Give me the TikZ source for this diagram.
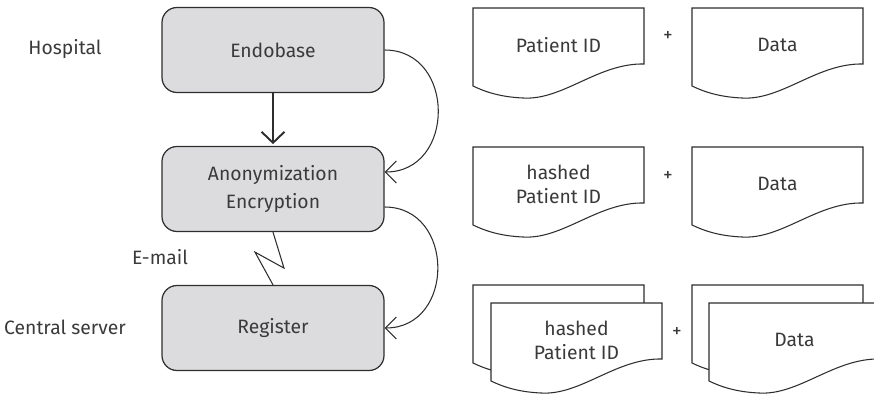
\documentclass[tikz,border=0pt]{standalone}
\usepackage{fontspec}
\setmainfont{Fira Sans}
\usepackage{tikz}
\usetikzlibrary{arrows.meta,positioning,calc}
\definecolor{boxgray}{HTML}{DCDCDE}
\definecolor{inkgray}{HTML}{2E2E2E}
\definecolor{textgray}{HTML}{3A3A3A}

\tikzset{
  stepbox/.style={draw=inkgray, line width=0.7pt, fill=boxgray, rounded corners=0.3cm,
    minimum width=4.44cm, minimum height=1.7cm, align=center, text=textgray,
    font=\fontsize{11}{15.5}\selectfont},
  sidelabel/.style={text=textgray, font=\fontsize{11}{13}\selectfont},
  doctext/.style={text=textgray, align=center, font=\fontsize{11}{13.8}\selectfont},
  flow/.style={draw=inkgray, line width=0.6pt, -{Straight Barb[length=2.2mm,width=4.4mm]}},
  docbox/.pic={
    \draw[inkgray, line width=0.6pt, fill=white] (0,0) -- (3.42,0) -- (3.42,-1.12)
      .. controls (2.5,-1.1) and (1.8,-1.85) .. (1.0,-1.8)
      .. controls (0.55,-1.78) and (0.25,-1.68) .. (0,-1.56) -- cycle;
  }
}

\begin{document}
\begin{tikzpicture}
\useasboundingbox (0,0) rectangle (17.48,7.9);
% process boxes
\node[stepbox] (endo) at (5.46,6.9) {Endobase};
\node[stepbox] (anon) at (5.46,4.12) {Anonymization\\Encryption};
\node[stepbox] (reg) at (5.46,1.34) {Register};
% side labels
\node[sidelabel] (hosp) at (1.3,6.92) {Hospital};
\node[sidelabel] (central) at (1.3,1.36) {Central server};
\node[sidelabel] (mail) at (3.2,2.76) {E-mail};
% connectors
\draw[inkgray, line width=1.1pt, -{Straight Barb[length=2.2mm,width=4.6mm]}, shorten >=1pt] (endo) -- (anon);
\draw[flow] (endo.east) to[out=0, in=0, looseness=1.5] ([yshift=0.34cm]anon.east);
\draw[flow] ([yshift=-0.36cm]anon.east) to[out=0, in=0, looseness=1.5] (reg.east);
\draw[inkgray, line width=0.6pt] (anon.south) -- ++(0.22,-0.72) -- ++(-0.58,0.32) -- (reg.north);
% documents, first row
\pic at (9.46,7.74) {docbox};
\pic at (13.84,7.74) {docbox};
\node[doctext] (pid1) at (11.17,7.0) {Patient ID};
\node[doctext] (data1) at (15.55,7.0) {Data};
\node[doctext] (plus1) at (13.36,7.18) {+};
% documents, second row
\pic at (9.46,4.96) {docbox};
\pic at (13.84,4.96) {docbox};
\node[doctext] (pid2) at (11.17,4.22) {hashed\\Patient ID};
\node[doctext] (data2) at (15.55,4.22) {Data};
\node[doctext] (plus2) at (13.36,4.38) {+};
% documents, third row (stacked)
\pic at (9.46,2.2) {docbox};
\pic at (9.82,1.84) {docbox};
\pic at (13.84,2.2) {docbox};
\pic at (14.18,1.84) {docbox};
\node[doctext] (pid3) at (11.53,1.1) {hashed\\Patient ID};
\node[doctext] (data3) at (15.89,1.1) {Data};
\node[doctext] (plus3) at (13.54,1.26) {+};
\end{tikzpicture}
\end{document}
